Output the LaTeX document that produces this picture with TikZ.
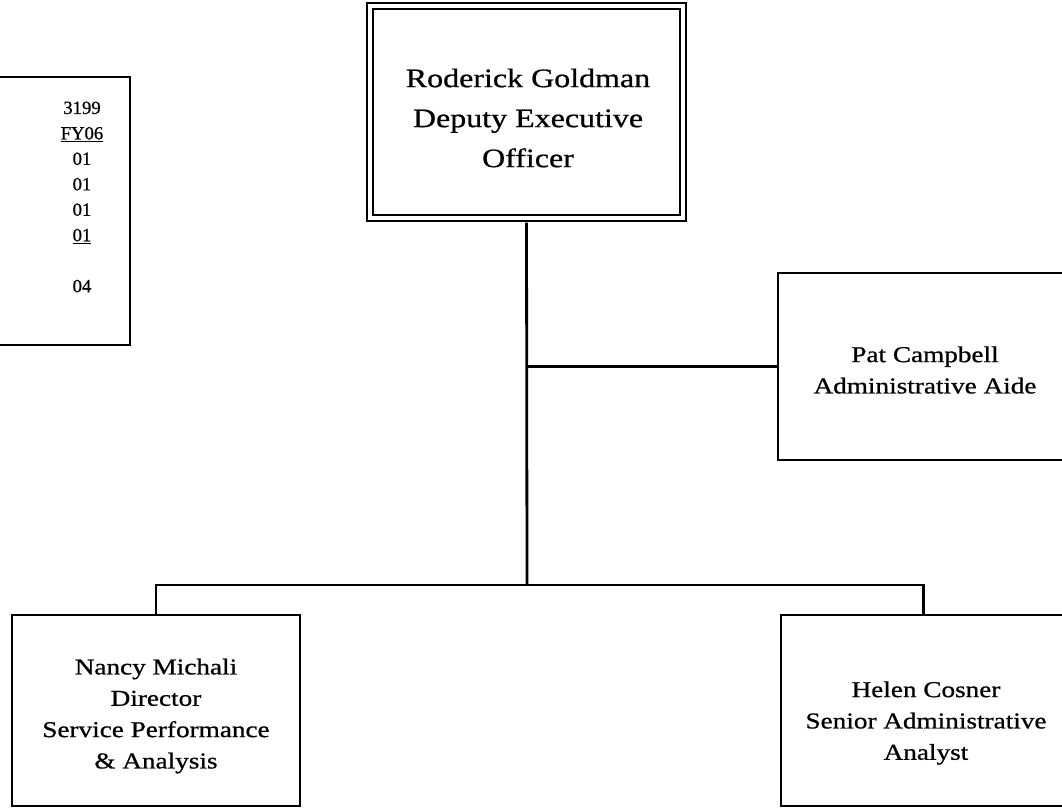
\documentclass[tikz,border=0pt]{standalone}
\usepackage{fontspec}
\setmainfont[FakeStretch=1.2,FakeBold=0.8]{Liberation Serif}
\newfontfamily\numfont[FakeBold=0.8]{Liberation Serif}
\begin{document}
\begin{tikzpicture}[x=0.75pt,y=-0.75pt,
 box/.style={draw,line width=2.1pt,inner sep=0pt},
 nametext/.style={align=center,inner sep=0pt,font=\fontsize{17}{23.5}\selectfont},
 link/.style={line width=2.1pt}]
 \useasboundingbox (0,0) rectangle (1062,807);
 \clip (0,0) rectangle (1062,807);
 \node[box,minimum width=105pt,minimum height=201pt] (F) at (60,211) {};
 \node[draw,double,line width=1.5pt,double distance=3pt,minimum width=234.75pt,minimum height=159pt] (R) at (526.5,112) {};
 \node[box,minimum width=216pt,minimum height=140.25pt] (P) at (922,366.5) {};
 \node[box,minimum width=216pt,minimum height=143.25pt] (N) at (156,710.5) {};
 \node[box,minimum width=213.75pt,minimum height=143.25pt] (H) at (923.5,710.5) {};
 \node[nametext,font=\numfont\fontsize{14}{19.1}\selectfont] (Ft) at (82,197) {3199\\\underline{FY06}\\01\\01\\01\\\underline{01}\\[19.1pt]04};
 \node[nametext,font=\fontsize{20}{30}\selectfont] (Rt) at (528,118) {Roderick Goldman\\Deputy Executive\\Officer};
 \node[nametext] (Pt) at (925,370) {Pat Campbell\\Administrative Aide};
 \node[nametext] (Nt) at (156,716) {Nancy Michali\\Director\\Service Performance\\\& Analysis};
 \node[nametext] (Ht) at (926,723) {Helen Cosner\\Senior Administrative\\Analyst};
 \coordinate (B) at (527,585);
 \draw[link] ([yshift=-2.7pt]R.south) -- (B);
 \draw[link] (B |- P.west) -- (P.west);
 \draw[link] (N.north) |- (B) -| (H.north);
\end{tikzpicture}
\end{document}
